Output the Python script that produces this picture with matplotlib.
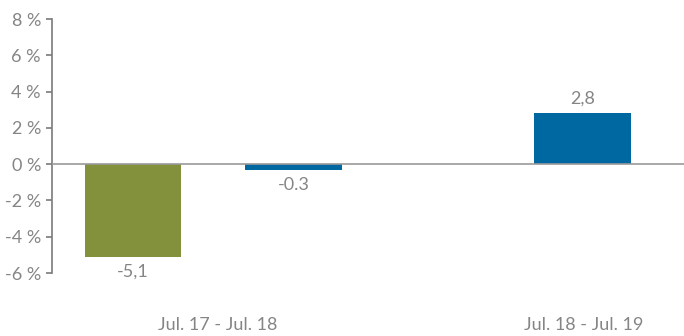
import matplotlib
matplotlib.use("Agg")
import matplotlib.pyplot as plt

# Data
periods = ["Jul. 17 - Jul. 18", "Jul. 18 - Jul. 19"]
series_olive = [-5.1]
series_blue = [-0.3, 2.8]
olive_labels = ["-5,1"]
blue_labels = ["-0.3", "2,8"]
yticks = [-6, -4, -2, 0, 2, 4, 6, 8]
ytick_labels = [f"{v} %" for v in yticks]

# Layout
olive_x = [0.81]
blue_x = [2.42, 5.31]
period_x = [1.66, 5.32]
bar_w = 0.97

OLIVE = "#84913C"
BLUE = "#0068A1"
GREY = "#858585"
AXIS = "#7a7a7a"
FS = 13

plt.rcParams['font.family'] = ['Lato', 'DejaVu Sans']

fig = plt.figure(figsize=(6.84, 3.36), dpi=100)
ax = fig.add_axes([52/684, 1-273/336, 632/684, (273-19)/336])
ax.set_xlim(0, 6.32)
ax.set_ylim(-6, 8)

ax.bar(olive_x, series_olive, width=bar_w, color=OLIVE, zorder=2)
ax.bar(blue_x, series_blue, width=bar_w, color=BLUE, zorder=2)
ax.axhline(0, color="#9a9a9a", lw=1.2, zorder=3)

for x, v, s in zip(olive_x, series_olive, olive_labels):
    ax.annotate(s, (x, v), xytext=(0, -5 if v < 0 else 5), textcoords="offset points",
                ha="center", va="top" if v < 0 else "bottom", color=GREY, fontsize=FS)
for x, v, s in zip(blue_x, series_blue, blue_labels):
    ax.annotate(s, (x, v), xytext=(0, -5 if v < 0 else 5), textcoords="offset points",
                ha="center", va="top" if v < 0 else "bottom", color=GREY, fontsize=FS)

for sp in ["top", "right", "bottom"]:
    ax.spines[sp].set_visible(False)
ax.spines["left"].set_color(AXIS)
ax.spines["left"].set_linewidth(1.2)

ax.set_yticks(yticks)
ax.set_yticklabels(ytick_labels, color=GREY, fontsize=FS)
ax.tick_params(axis="y", length=4, width=1.2, color=AXIS, pad=4)
ax.set_xticks(period_x)
ax.set_xticklabels(periods, color=GREY, fontsize=FS)
ax.tick_params(axis="x", length=0, pad=32)

fig.savefig("out.png", dpi=100)
